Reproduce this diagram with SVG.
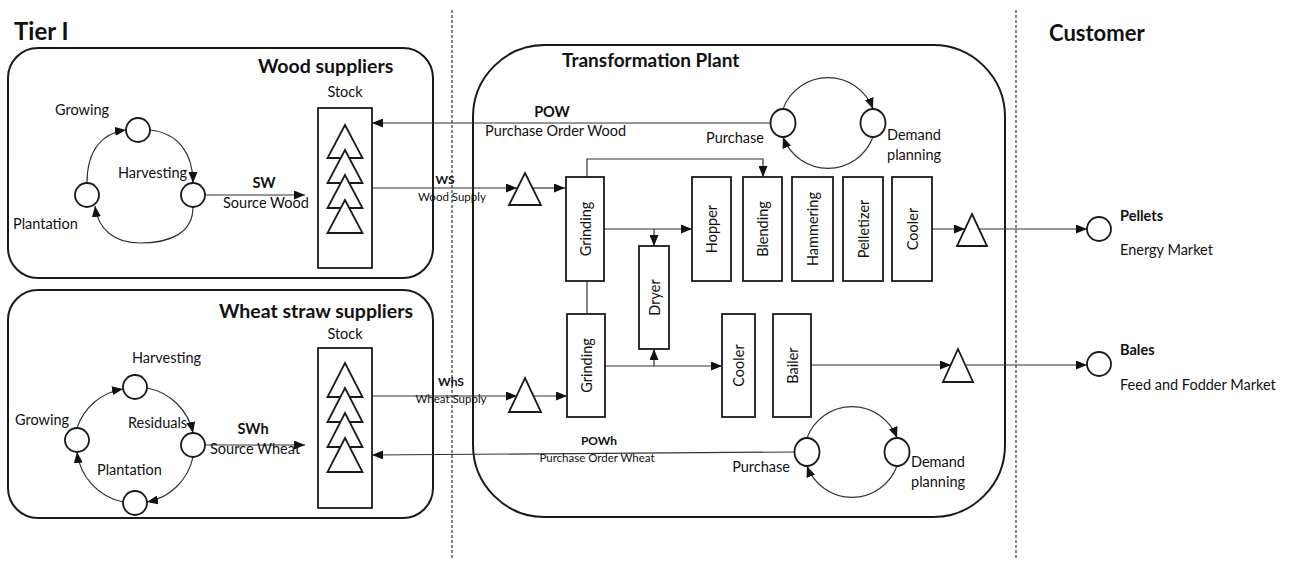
<svg xmlns="http://www.w3.org/2000/svg" width="1290" height="564" viewBox="0 0 1290 564">
<style>
text{font-family:Lato,"Liberation Sans",sans-serif;fill:#111}
.t{font-size:14.5px}
.s{font-size:11.5px}
.b{font-weight:bold}
.region{fill:none;stroke:#1a1a1a;stroke-width:2}
.box{fill:#fff;stroke:#1a1a1a;stroke-width:1.8}
.node{fill:#fff;stroke:#1a1a1a;stroke-width:1.8}
.tri{fill:#fff;stroke:#1a1a1a;stroke-width:1.8}
.ln{fill:none;stroke:#333;stroke-width:1.2}
.dash{stroke:#444;stroke-width:1.3;stroke-dasharray:3,2}
.bt{font-size:14.5px;text-anchor:middle;dominant-baseline:central}
.c{font-size:14.5px}
</style>
<defs>
<marker id="arr" markerUnits="userSpaceOnUse" markerWidth="11" markerHeight="9" refX="11" refY="4.5" orient="auto">
<path d="M0,0 L11,4.5 L0,9 z" fill="#111"/>
</marker>
</defs>
<rect width="1290" height="564" fill="#fff"/>

<g id="separators">
<line class="dash" x1="452" y1="10" x2="452" y2="560"/>
<line class="dash" x1="1016" y1="10" x2="1016" y2="560"/>
</g>

<g id="headers">
<text x="14" y="40" class="b" style="font-size:24px">Tier I</text>
<text x="1049" y="41" class="b" style="font-size:22px">Customer</text>
</g>

<g id="wood-suppliers">
<rect class="region" x="8" y="48" width="425" height="230" rx="30"/>
<text x="258" y="73" class="b" style="font-size:19.5px">Wood suppliers</text>
</g>
<g id="wheat-suppliers">
<rect class="region" x="8" y="290" width="425" height="228" rx="30"/>
<text x="219" y="318" class="b" style="font-size:19.5px">Wheat straw suppliers</text>
</g>
<g id="transformation-plant">
<rect class="region" x="473" y="45" width="532" height="472" rx="72"/>
<text x="562" y="67" class="b" style="font-size:19px">Transformation Plant</text>
</g>

<g id="connectors">
<path class="ln" d="M87,183 C87,150 102,133 126,130" marker-end="url(#arr)"/>
<path class="ln" d="M150,130 C178,133 193,153 193,183" marker-end="url(#arr)"/>
<path class="ln" d="M193,207 C193,232 172,243 140,243 C115,243 98,230 95,206" marker-end="url(#arr)"/>
<line class="ln" x1="205" y1="195" x2="305" y2="195" marker-end="url(#arr)"/>
<path class="ln" d="M77,428 A58,58 0 0 1 123,389" marker-end="url(#arr)"/>
<path class="ln" d="M147,388 A58,58 0 0 1 193,433" marker-end="url(#arr)"/>
<path class="ln" d="M193,457 A58,58 0 0 1 147,502" marker-end="url(#arr)"/>
<path class="ln" d="M123,502 A58,58 0 0 1 77,452" marker-end="url(#arr)"/>
<line class="ln" x1="205" y1="445" x2="305" y2="445" marker-end="url(#arr)"/>
<path class="ln" d="M783,109 A48,48 0 0 1 873,109" marker-end="url(#arr)"/>
<path class="ln" d="M873,137 A48,48 0 0 1 783,137" marker-end="url(#arr)"/>
<path class="ln" d="M807,438 A48,48 0 0 1 897,438" marker-end="url(#arr)"/>
<path class="ln" d="M897,466 A48,48 0 0 1 807,466" marker-end="url(#arr)"/>
<line class="ln" x1="771" y1="123" x2="372" y2="123" marker-end="url(#arr)"/>
<line class="ln" x1="795" y1="452" x2="372" y2="455" marker-end="url(#arr)"/>
<line class="ln" x1="372" y1="188" x2="517" y2="188" marker-end="url(#arr)"/>
<line class="ln" x1="533" y1="188" x2="565" y2="188" marker-end="url(#arr)"/>
<line class="ln" x1="372" y1="396" x2="517" y2="396" marker-end="url(#arr)"/>
<line class="ln" x1="534" y1="396" x2="567" y2="396" marker-end="url(#arr)"/>
<path class="ln" d="M587,177 V159 H763 V177" marker-end="url(#arr)"/>
<line class="ln" x1="603" y1="229" x2="692" y2="229" marker-end="url(#arr)"/>
<line class="ln" x1="654" y1="229" x2="654" y2="246" marker-end="url(#arr)"/>
<line class="ln" x1="587" y1="281" x2="587" y2="314"/>
<line class="ln" x1="605" y1="366" x2="722" y2="366" marker-end="url(#arr)"/>
<line class="ln" x1="654" y1="366" x2="654" y2="349" marker-end="url(#arr)"/>
<line class="ln" x1="932" y1="229" x2="965" y2="229" marker-end="url(#arr)"/>
<line class="ln" x1="979" y1="229" x2="1087" y2="229" marker-end="url(#arr)"/>
<line class="ln" x1="811" y1="365" x2="951" y2="365" marker-end="url(#arr)"/>
<line class="ln" x1="965" y1="365" x2="1087" y2="365" marker-end="url(#arr)"/>
</g>

<g id="wood-growing"><circle class="node" cx="138" cy="130" r="12"/><text class="t" x="55" y="115">Growing</text></g>
<g id="wood-harvesting"><circle class="node" cx="193" cy="195" r="12"/><text class="t" x="118" y="178">Harvesting</text></g>
<g id="wood-plantation"><circle class="node" cx="87" cy="195" r="12"/><text class="t" x="13" y="229">Plantation</text></g>
<g id="sw-label"><text class="t b" x="264" y="188" text-anchor="middle">SW</text><text class="t" x="223" y="208">Source Wood</text></g>

<g id="wood-stock">
<text class="t" x="345" y="97" text-anchor="middle">Stock</text>
<rect class="box" x="318" y="108" width="54" height="160"/>
<path class="tri" d="M345,125 L362.5,158 L327.5,158 Z"/>
<path class="tri" d="M345,150 L362.5,183 L327.5,183 Z"/>
<path class="tri" d="M345,175 L362.5,208 L327.5,208 Z"/>
<path class="tri" d="M345,200 L362.5,233 L327.5,233 Z"/>
</g>

<g id="wheat-harvesting"><circle class="node" cx="135" cy="387" r="12"/><text class="t" x="132" y="363">Harvesting</text></g>
<g id="wheat-growing"><circle class="node" cx="77" cy="440" r="12"/><text class="t" x="15" y="425">Growing</text></g>
<g id="wheat-residuals"><circle class="node" cx="193" cy="445" r="12"/><text class="t" x="128" y="428">Residuals</text></g>
<g id="wheat-plantation"><circle class="node" cx="135" cy="503" r="12"/><text class="t" x="97" y="475">Plantation</text></g>
<g id="swh-label"><text class="t b" x="253" y="434" text-anchor="middle">SWh</text><text class="t" x="210" y="454">Source Wheat</text></g>

<g id="wheat-stock">
<text class="t" x="345" y="339" text-anchor="middle">Stock</text>
<rect class="box" x="318" y="348" width="54" height="160"/>
<path class="tri" d="M345,363 L362.5,397 L327.5,397 Z"/>
<path class="tri" d="M345,388 L362.5,422 L327.5,422 Z"/>
<path class="tri" d="M345,413 L362.5,447 L327.5,447 Z"/>
<path class="tri" d="M345,438 L362.5,472 L327.5,472 Z"/>
</g>

<g id="ws-label"><text class="b" style="font-size:12px" x="445" y="184" text-anchor="middle">WS</text><text class="s" x="452" y="201" text-anchor="middle">Wood Supply</text></g>
<g id="whs-label"><text class="b" style="font-size:12px" x="451" y="386" text-anchor="middle">WhS</text><text class="s" x="451" y="403" text-anchor="middle">Wheat Supply</text></g>
<g id="pow-label"><text class="t b" x="552" y="117" text-anchor="middle">POW</text><text class="t" x="485" y="136">Purchase Order Wood</text></g>
<g id="powh-label"><text class="b" style="font-size:12px" x="599" y="445" text-anchor="middle">POWh</text><text class="s" x="597" y="462" text-anchor="middle">Purchase Order Wheat</text></g>

<g id="wood-in-buffer"><path class="tri" d="M525,173 L541,205 L509,205 Z"/></g>
<g id="wheat-in-buffer"><path class="tri" d="M525,378 L541,412 L509,412 Z"/></g>

<g id="purchase-wood"><ellipse class="node" cx="783" cy="123" rx="12.5" ry="14"/><text class="t" x="706" y="143">Purchase</text></g>
<g id="demand-wood"><ellipse class="node" cx="873" cy="123" rx="12.5" ry="14"/><text class="t" x="887" y="140">Demand</text><text class="t" x="887" y="160">planning</text></g>
<g id="purchase-wheat"><ellipse class="node" cx="807" cy="452" rx="12.5" ry="14"/><text class="t" x="790" y="472" text-anchor="end">Purchase</text></g>
<g id="demand-wheat"><ellipse class="node" cx="897" cy="452" rx="12.5" ry="14"/><text class="t" x="911" y="467">Demand</text><text class="t" x="911" y="487">planning</text></g>

<g id="grinding-wood"><rect class="box" x="566" y="177" width="38" height="104"/><text class="bt" transform="translate(585,229) rotate(-90)">Grinding</text></g>
<g id="hopper"><rect class="box" x="692" y="177" width="39" height="104"/><text class="bt" transform="translate(711.5,229) rotate(-90)">Hopper</text></g>
<g id="blending"><rect class="box" x="743" y="177" width="39" height="104"/><text class="bt" transform="translate(762.5,229) rotate(-90)">Blending</text></g>
<g id="hammering"><rect class="box" x="792" y="177" width="41" height="104"/><text class="bt" transform="translate(812.5,229) rotate(-90)">Hammering</text></g>
<g id="pelletizer"><rect class="box" x="843" y="177" width="40" height="104"/><text class="bt" transform="translate(863,229) rotate(-90)">Pelletizer</text></g>
<g id="cooler-pellets"><rect class="box" x="892" y="177" width="40" height="104"/><text class="bt" transform="translate(912,229) rotate(-90)">Cooler</text></g>
<g id="dryer"><rect class="box" x="639" y="246" width="30" height="103"/><text class="bt" transform="translate(654,297.5) rotate(-90)">Dryer</text></g>
<g id="grinding-wheat"><rect class="box" x="567" y="314" width="38" height="103"/><text class="bt" transform="translate(586,365.5) rotate(-90)">Grinding</text></g>
<g id="cooler-bales"><rect class="box" x="722" y="314" width="33" height="103"/><text class="bt" transform="translate(738.5,365.5) rotate(-90)">Cooler</text></g>
<g id="bailer"><rect class="box" x="773" y="314" width="38" height="103"/><text class="bt" transform="translate(792,365.5) rotate(-90)">Bailer</text></g>

<g id="pellets-buffer"><path class="tri" d="M972,214 L987,246 L957,246 Z"/></g>
<g id="bales-buffer"><path class="tri" d="M958,349 L973,382 L943,382 Z"/></g>

<g id="pellets"><circle class="node" cx="1099" cy="229" r="12"/><text class="c b" x="1120" y="221">Pellets</text><text class="c" x="1120" y="255">Energy Market</text></g>
<g id="bales"><circle class="node" cx="1099" cy="364" r="12"/><text class="c b" x="1120" y="355">Bales</text><text class="c" x="1120" y="390">Feed and Fodder Market</text></g>
</svg>
